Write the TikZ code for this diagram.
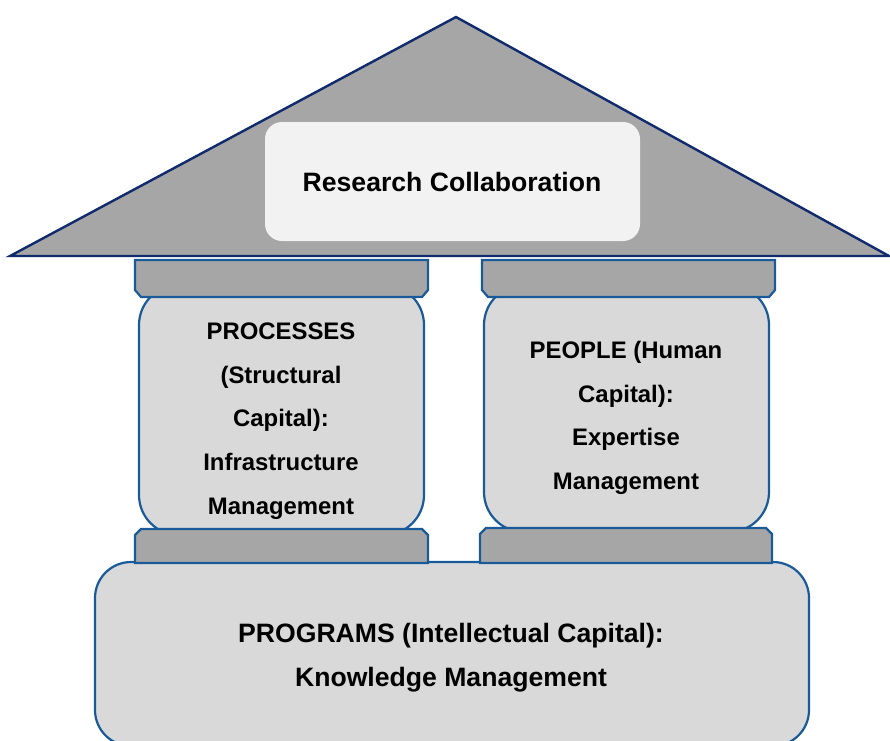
\documentclass[tikz,border=0pt]{standalone}
\usepackage{fontspec}
\setmainfont{Liberation Sans}
\definecolor{roofgray}{HTML}{A6A6A6}
\definecolor{navy}{HTML}{102A6E}
\definecolor{pblue}{HTML}{1A5A99}
\definecolor{pfill}{HTML}{D9D9D9}
\definecolor{tfill}{HTML}{F2F2F2}
\tikzset{
  roofstyle/.style={fill=roofgray, draw=navy, line width=2.4pt, line join=miter},
  capstyle/.style={fill=roofgray, draw=pblue, line width=2.2pt},
  bodystyle/.style={fill=pfill, draw=pblue, line width=2.2pt, rounded corners=40pt},
  basestyle/.style={fill=pfill, draw=pblue, line width=2.2pt, rounded corners=36pt},
  titlestyle/.style={fill=tfill, rounded corners=17pt},
  bigtext/.style={font=\fontsize{26.6}{43.7}\selectfont\bfseries, align=center, inner sep=0pt},
  smalltext/.style={font=\fontsize{23.9}{43.7}\selectfont\bfseries, align=center, inner sep=0pt}
}
\begin{document}
\begin{tikzpicture}[x=1pt, y=-1pt]
\useasboundingbox (0,0) rectangle (890,740);
\clip (0,0) rectangle (890,740);
% roof
\draw[roofstyle] (10,256) -- (456,17) -- (889,256) -- cycle;
\fill[titlestyle] (265,122) rectangle (640,241);
\node[bigtext] (title) at (452,182) {Research Collaboration};
% pillar bodies
\draw[bodystyle] (139,285) rectangle (424,535);
\draw[bodystyle] (484,285) rectangle (769,532);
% top caps
\draw[capstyle] (135,260) -- (428,260) -- (428,290) -- (422,297) -- (141,297) -- (135,290) -- cycle;
\draw[capstyle] (482,260) -- (775,260) -- (775,290) -- (769,297) -- (488,297) -- (482,290) -- cycle;
% base
\draw[basestyle] (95,562) rectangle (809,746);
% bottom caps
\draw[capstyle] (141,529) -- (422,529) -- (428,535) -- (428,563) -- (135,563) -- (135,535) -- cycle;
\draw[capstyle] (486,528) -- (766,528) -- (772,534) -- (772,563) -- (480,563) -- (480,534) -- cycle;
% texts
\node[smalltext] (processes) at (281,421) {PROCESSES\\(Structural\\Capital):\\Infrastructure\\Management};
\node[smalltext] (people) at (626,418) {PEOPLE (Human\\Capital):\\Expertise\\Management};
\node[bigtext] (programs) at (451,658) {PROGRAMS (Intellectual Capital):\\Knowledge Management};
\end{tikzpicture}
\end{document}
